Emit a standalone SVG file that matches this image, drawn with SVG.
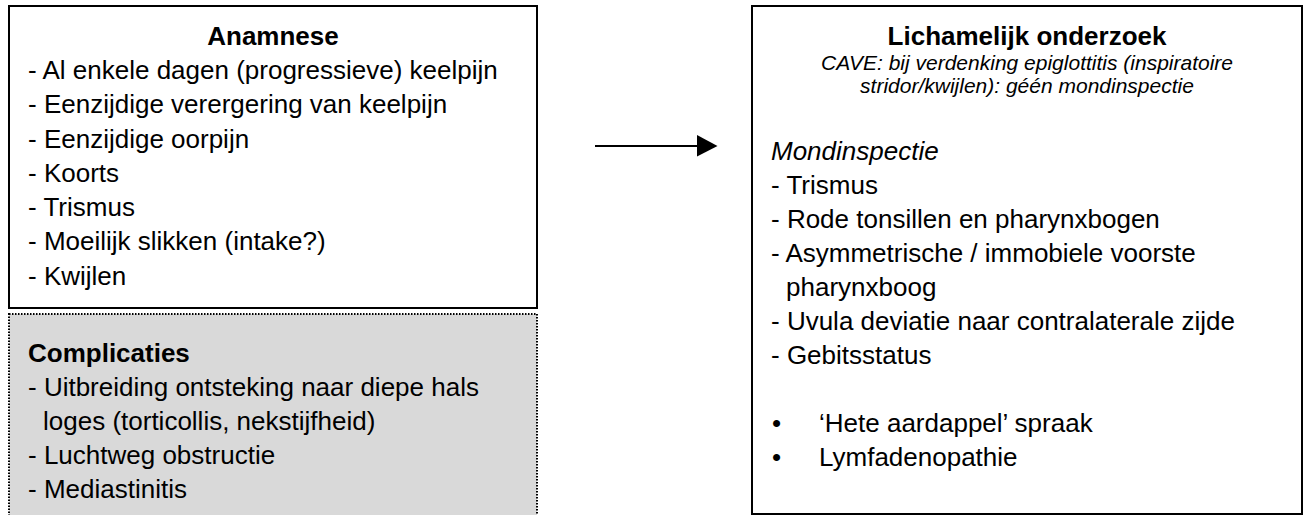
<svg xmlns="http://www.w3.org/2000/svg" width="1307" height="515" viewBox="0 0 1307 515">
  <defs>
    <style>
      .t { font-family: "Liberation Sans", Arial, sans-serif; font-size: 26px; fill: #000; }
      .b { font-weight: bold; }
      .i { font-style: italic; }
      .s { font-size: 21px; }
      .box { fill: #fff; stroke: #000; stroke-width: 2; }
    </style>
  </defs>
  <rect width="1307" height="515" fill="#fff"/>

  <g id="anamnese">
    <rect class="box" x="9" y="6" width="528" height="302"/>
    <text class="t b" x="273" y="45" text-anchor="middle">Anamnese</text>
    <text class="t" x="28" y="79">- Al enkele dagen (progressieve) keelpijn</text>
    <text class="t" x="28" y="113.3">- Eenzijdige verergering van keelpijn</text>
    <text class="t" x="28" y="147.5">- Eenzijdige oorpijn</text>
    <text class="t" x="28" y="181.8">- Koorts</text>
    <text class="t" x="28" y="216">- Trismus</text>
    <text class="t" x="28" y="250.3">- Moeilijk slikken (intake?)</text>
    <text class="t" x="28" y="284.5">- Kwijlen</text>
  </g>

  <g id="complicaties">
    <rect x="9" y="314" width="528" height="230" fill="#d9d9d9" stroke="#000" stroke-width="2" stroke-dasharray="1.5 1.5"/>
    <text class="t b" x="28" y="362">Complicaties</text>
    <text class="t" x="28" y="396">- Uitbreiding ontsteking naar diepe hals</text>
    <text class="t" x="43" y="430">loges (torticollis, nekstijfheid)</text>
    <text class="t" x="28" y="464">- Luchtweg obstructie</text>
    <text class="t" x="28" y="498">- Mediastinitis</text>
  </g>

  <g id="onderzoek">
    <rect class="box" x="752" y="6" width="550" height="508"/>
    <text class="t b" x="1027" y="45" text-anchor="middle">Lichamelijk onderzoek</text>
    <text class="t i s" x="1027" y="70" text-anchor="middle">CAVE: bij verdenking epiglottitis (inspiratoire</text>
    <text class="t i s" x="1027" y="93" text-anchor="middle">stridor/kwijlen): géén mondinspectie</text>
    <text class="t i" x="771" y="160">Mondinspectie</text>
    <text class="t" x="771" y="194">- Trismus</text>
    <text class="t" x="771" y="228">- Rode tonsillen en pharynxbogen</text>
    <text class="t" x="771" y="262">- Asymmetrische / immobiele voorste</text>
    <text class="t" x="786" y="296">pharynxboog</text>
    <text class="t" x="771" y="330">- Uvula deviatie naar contralaterale zijde</text>
    <text class="t" x="771" y="364">- Gebitsstatus</text>
    <text class="t" x="772" y="432">•</text>
    <text class="t" x="819" y="432">‘Hete aardappel’ spraak</text>
    <text class="t" x="772" y="466">•</text>
    <text class="t" x="819" y="466">Lymfadenopathie</text>
  </g>

  <g id="connectors">
    <line x1="595" y1="146" x2="698" y2="146" stroke="#000" stroke-width="2"/>
    <polygon points="697,135 717.5,146 697,156.5" fill="#000"/>
  </g>
</svg>
